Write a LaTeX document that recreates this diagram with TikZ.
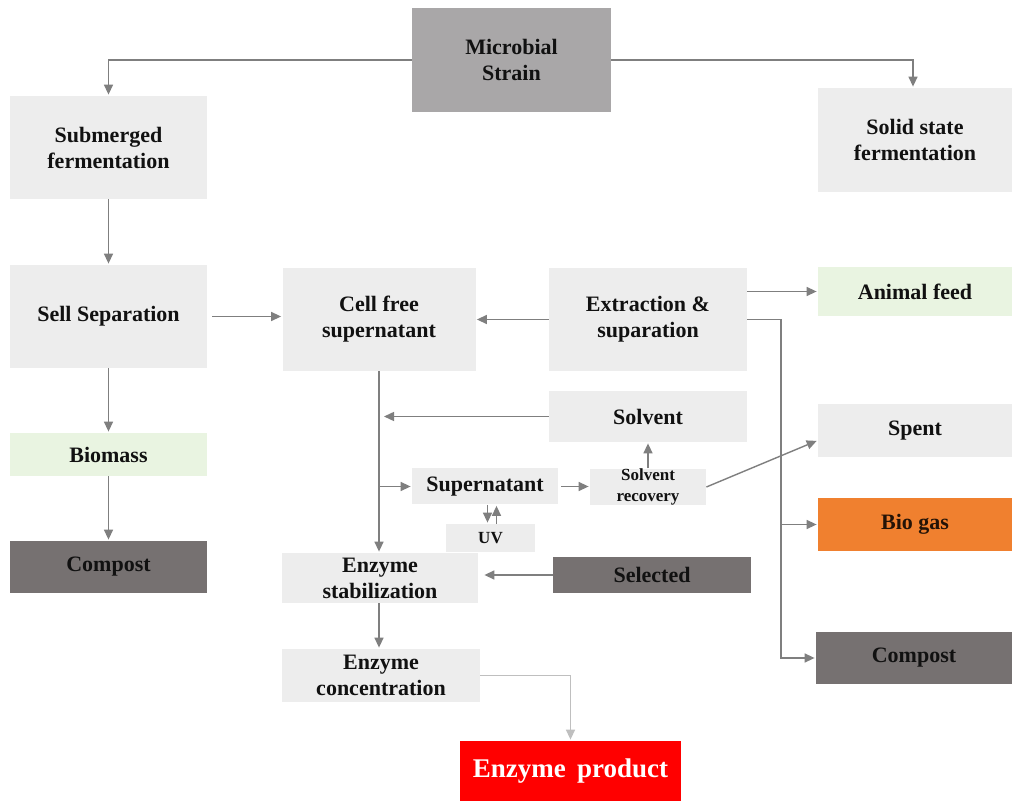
\documentclass[tikz,border=0pt]{standalone}
\usepackage{fontspec}
\setmainfont{Liberation Serif}
\usepackage{tikz}
\usetikzlibrary{arrows.meta}
\definecolor{boxgray}{HTML}{EDEDED}
\definecolor{midgray}{HTML}{A9A7A8}
\definecolor{darkgray}{HTML}{767171}
\definecolor{lightgreen}{HTML}{E9F4E1}
\definecolor{orangebox}{HTML}{F0802F}
\definecolor{redbox}{HTML}{FF0000}
\definecolor{linegray}{HTML}{7F7F7F}
\definecolor{palegray}{HTML}{BFBFBF}
\definecolor{textdark}{HTML}{111111}

\tikzset{
  box/.style={fill=boxgray, text=textdark, align=center, inner sep=0pt,
    font=\bfseries\fontsize{11}{13}\selectfont},
  small/.style={font=\bfseries\fontsize{8.5}{10.5}\selectfont},
  arr/.style={draw=linegray, line width=0.7pt, shorten >=0.5pt,
    -{Triangle[length=5pt,width=4.5pt]}}
}

\begin{document}
\begin{tikzpicture}[x=0.5pt, y=-0.5pt]
    \useasboundingbox (0,0) rectangle (1012,801);
    \fill[white] (0,0) rectangle (1012,801);
    \node[box, fill=midgray, minimum width=99.5pt, minimum height=52pt] (micro) at (511.5, 60) {Microbial\\Strain};
    \node[box, minimum width=98.5pt, minimum height=51.5pt] (subm) at (108.5, 147.5) {Submerged\\fermentation};
    \node[box, minimum width=97pt, minimum height=52pt] (solid) at (915, 140) {Solid state\\fermentation};
    \node[box, minimum width=98.5pt, minimum height=51.5pt] (sell) at (108.5, 316.5) {Sell Separation};
    \node[box, minimum width=96.5pt, minimum height=51.5pt] (cellfree) at (379, 319.5) {Cell free\\supernatant};
    \node[box, minimum width=99pt, minimum height=51.5pt] (extract) at (648, 319.5) {Extraction \&\\suparation};
    \node[box, fill=lightgreen, minimum width=97pt, minimum height=24.5pt] (feed) at (915, 291.5) {Animal feed};
    \node[box, minimum width=99pt, minimum height=25.5pt] (solvent) at (648, 416.5) {Solvent};
    \node[box, minimum width=97pt, minimum height=26.5pt] (spent) at (915, 430.5) {Spent};
    \node[box, minimum width=73pt, minimum height=18pt] (super) at (485, 486.5) {Supernatant};
    \node[box, small, minimum width=58pt, minimum height=17pt] (recov) at (648, 487) {Solvent\\recovery};
    \node[box, small, minimum width=44.5pt, minimum height=14pt] (uv) at (490.5, 538) {UV};
    \node[box, minimum width=98pt, minimum height=25pt] (stab) at (380, 578) {Enzyme\\stabilization};
    \node[box, fill=darkgray, minimum width=99pt, minimum height=18pt] (selected) at (652, 575) {Selected};
    \node[box, fill=orangebox, text=black!85!orangebox, minimum width=97pt, minimum height=26.5pt] (biogas) at (915, 524.5) {Bio gas};
    \node[box, fill=darkgray, minimum width=98pt, minimum height=26pt] (compR) at (914, 658) {Compost};
    \node[box, fill=lightgreen, minimum width=98.5pt, minimum height=21.5pt] (biomass) at (108.5, 454.5) {Biomass};
    \node[box, fill=darkgray, minimum width=98.5pt, minimum height=26pt] (compL) at (108.5, 567) {Compost};
    \node[box, minimum width=99pt, minimum height=26.5pt] (conc) at (381, 675.5) {Enzyme\\concentration};
    \node[box, fill=redbox, text=white, minimum width=110.5pt, minimum height=30.5pt,
      font=\bfseries\fontsize{13.5}{15}\selectfont] (product) at (570.5, 771.5) {Enzyme\ \,product};
    \coordinate (split) at (781, 319.5);

    \draw[arr] (micro.west) -| (subm.north);
    \draw[arr] (micro.east) -| ([xshift=-1pt]solid.north);
    \draw[arr] (subm.south) -- (sell.north);
    \draw[arr] (sell.south) -- (biomass.north);
    \draw[arr] (biomass.south) -- (compL.north);
    \draw[arr, shorten <=2.5pt] (sell.east) -- (sell.east -| cellfree.west);
    \draw[arr] (extract.west) -- (cellfree.east);
    \draw[arr] (feed.west -| extract.east) -- (feed.west);
    \draw[arr] (extract.east) -- (split) |- (compR.west);
    \draw[arr] (split |- biogas.west) -- (biogas.west);
    \draw[arr] (cellfree.south) -- (cellfree.south |- stab.north);
    \draw[arr, shorten >=2.5pt] (solvent.west) -- (solvent.west -| cellfree.south);
    \draw[arr] (super.west -| cellfree.south) -- (super.west);
    \draw[arr, shorten <=1.5pt] (super.east) -- (super.east -| recov.west);
    \draw[arr] (recov.north) -- (solvent.south);
    \draw[arr] (recov.east) -- ([yshift=-5pt]spent.west);
    \draw[arr] ([xshift=-1.5pt]uv.north |- super.south) -- ([xshift=-1.5pt]uv.north);
    \draw[arr] ([xshift=3pt]uv.north) -- ([xshift=3pt]uv.north |- super.south);
    \draw[arr, shorten >=3pt] (selected.west) -- (selected.west -| stab.east);
    \draw[arr] (stab.south -| cellfree.south) -- (cellfree.south |- conc.north);
    \draw[arr, draw=palegray] (conc.east) -| (product.north);
\end{tikzpicture}
\end{document}
